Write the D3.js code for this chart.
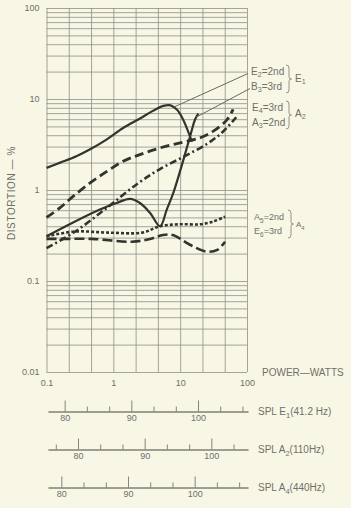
<!DOCTYPE html>
<html>
<head>
<meta charset="utf-8">
<script src="https://cdn.jsdelivr.net/npm/d3@7"></script>
<style>
  body { margin: 0; background: #f8f7e6; }
  svg { display: block; font-family: "Liberation Sans", Arial, sans-serif; }
  .grid line { stroke: #8e8e86; stroke-width: 0.8; }
  .grid path { display: none; }
  .curve { fill: none; stroke: #34342f; stroke-linejoin: round; }
  .lbl { fill: #6f6f68; font-size: 10px; }
  .tick-lbl text { fill: #6f6f68; font-size: 9px; font-family: "Liberation Sans", Arial, sans-serif; }
  .tick-lbl path, .tick-lbl line { stroke: none; }
  .spl path, .spl line { stroke: #77776f; stroke-width: 0.9; }
  .spl text { fill: #6f6f68; font-size: 9px; font-family: "Liberation Sans", Arial, sans-serif; }
  .pointer { stroke: #6a6a63; stroke-width: 1; }
  .brace { fill: none; stroke: #7a7a72; stroke-width: 0.8; }
</style>
</head>
<body>
<svg id="chart"></svg>
<script>
// distortion (%) vs power (W)
const e2Second = [[0.1,1.75],[0.16,2.0],[0.28,2.35],[0.45,2.8],[0.8,3.6],[1.4,4.8],[2.5,6.1],[3.9,7.4],[5.6,8.4],[7.2,8.5],[9,7.6],[11,6.0],[13,4.5],[15,3.4]];
const b3Third = [[0.1,0.31],[0.25,0.44],[0.63,0.61],[1.12,0.72],[1.78,0.80],[2.5,0.72],[3.55,0.56],[5.0,0.40],[6.3,0.61],[7.9,0.93],[11.2,2.16],[14.1,3.9],[16.7,5.95],[18.7,6.9]];
const e4Third = [[0.1,0.50],[0.16,0.64],[0.25,0.85],[0.45,1.2],[0.8,1.6],[1.4,2.07],[2.5,2.45],[5,2.9],[10,3.3],[20,3.75],[31,4.4],[50,5.9],[62,7.7]];
const a3Second = [[0.1,0.23],[0.27,0.35],[0.85,0.66],[2.4,1.2],[5,1.7],[11,2.3],[25,3.2],[44,4.4],[69,6.3]];
const a5Second = [[0.1,0.31],[0.27,0.35],[0.85,0.34],[2.7,0.34],[5,0.40],[10,0.42],[20,0.42],[31,0.45],[47,0.51]];
const e6Third = [[0.1,0.29],[0.17,0.29],[0.48,0.29],[1.9,0.27],[3.55,0.29],[5.5,0.32],[7.8,0.32],[14,0.25],[25,0.21],[36,0.22],[47,0.27]];

// where the two label pointers touch the curves
const e2Pointer = [8.2, 8.2];
const b3Pointer = [17.3, 6.3];

// axis tick labels
const powerTicks = [0.1, 1, 10, 100];
const powerTickLabels = ['0.1', '1', '10', '100'];
const distTicks = [0.01, 0.1, 1, 10, 100];
const distTickLabels = ['0.01', '0.1', '1', '10', '100'];

// SPL scales: dB at 1 W for each note
const splNames = ['E1', 'A2', 'A4'];
const splAt1W = [87.5, 85.5, 88.0];
const splMajor = [80, 90, 100];
const splMinor = [76.67, 83.33, 86.67, 93.33, 96.67, 103.33, 106.67];

class DistortionChart {
  constructor(_config) {
    this.config = {
      parentElement: _config.parentElement,
      containerWidth: _config.containerWidth || 351,
      containerHeight: _config.containerHeight || 508,
      plot: { left: 46.5, right: 247, top: 8, bottom: 372 }
    };
  }

  initVis() {
    let vis = this;
    let p = vis.config.plot;

    vis.xScale = d3.scaleLog().domain([0.1, 100]).range([p.left, p.right]);
    vis.yScale = d3.scaleLog().domain([0.01, 100]).range([p.bottom, p.top]);

    vis.svg = d3.select(vis.config.parentElement)
      .attr('width', vis.config.containerWidth)
      .attr('height', vis.config.containerHeight);

    vis.renderVis();
  }

  renderVis() {
    let vis = this;
    let p = vis.config.plot;
    let w = p.right - p.left, h = p.bottom - p.top;

    // graph paper: 3 verticals per decade, 1..9 horizontals per decade
    let xGridVals = d3.range(-3, 7).map(k => Math.pow(10, k / 3));
    let yGridVals = [];
    [0.01, 0.1, 1, 10].forEach(d => d3.range(1, 10).forEach(m => yGridVals.push(d * m)));
    yGridVals.push(100);

    vis.svg.append('g')
      .attr('class', 'grid')
      .attr('transform', `translate(0,${p.bottom})`)
      .call(d3.axisBottom(vis.xScale).tickValues(xGridVals).tickSize(-h).tickFormat(''));

    vis.svg.append('g')
      .attr('class', 'grid')
      .attr('transform', `translate(${p.left},0)`)
      .call(d3.axisLeft(vis.yScale).tickValues(yGridVals).tickSize(-w).tickFormat(''));

    // tick labels
    vis.svg.append('g')
      .attr('class', 'tick-lbl')
      .attr('transform', `translate(0,${p.bottom})`)
      .call(d3.axisBottom(vis.xScale).tickValues(powerTicks).tickSize(0).tickPadding(8)
        .tickFormat((d, i) => powerTickLabels[i]));

    vis.svg.append('g')
      .attr('class', 'tick-lbl')
      .attr('transform', `translate(${p.left},0)`)
      .call(d3.axisLeft(vis.yScale).tickValues(distTicks).tickSize(0).tickPadding(7)
        .tickFormat((d, i) => distTickLabels[i]));

    vis.svg.append('text')
      .attr('class', 'lbl')
      .attr('transform', 'translate(12.5,193) rotate(-90)')
      .attr('text-anchor', 'middle')
      .attr('dominant-baseline', 'middle')
      .style('letter-spacing', '0.6px')
      .text('DISTORTION — %');

    vis.svg.append('text')
      .attr('class', 'lbl')
      .attr('x', 262).attr('y', 375.5)
      .style('font-size', '10px')
      .text('POWER—WATTS');

    // curves
    let line = d3.line()
      .x(d => vis.xScale(d[0]))
      .y(d => vis.yScale(d[1]))
      .curve(d3.curveCatmullRom.alpha(0.5));

    let series = [
      { data: e2Second, width: 2.2, dash: null },
      { data: b3Third, width: 2.2, dash: null },
      { data: e4Third, width: 2.8, dash: '9,4.5' },
      { data: a3Second, width: 2.6, dash: '7,3,2,3' },
      { data: a5Second, width: 2.6, dash: '3,2' },
      { data: e6Third, width: 2.6, dash: '10,4' }
    ];
    series.forEach(s => {
      vis.svg.append('path')
        .datum(s.data)
        .attr('class', 'curve')
        .attr('stroke-width', s.width)
        .attr('stroke-dasharray', s.dash)
        .attr('d', line);
    });

    // pointers from labels to curves
    vis.svg.append('line').attr('class', 'pointer')
      .attr('x1', 248).attr('y1', 73.5)
      .attr('x2', vis.xScale(e2Pointer[0])).attr('y2', vis.yScale(e2Pointer[1]));
    vis.svg.append('line').attr('class', 'pointer')
      .attr('x1', 250).attr('y1', 88.5)
      .attr('x2', vis.xScale(b3Pointer[0])).attr('y2', vis.yScale(b3Pointer[1]));

    // legend labels
    vis.subLabel(251, 74.5, 'E', '2', '=2nd', 10);
    vis.subLabel(251, 89.5, 'B', '3', '=3rd', 10);
    vis.subLabel(252, 110.5, 'E', '4', '=3rd', 10);
    vis.subLabel(252, 125.5, 'A', '3', '=2nd', 10);
    vis.subLabel(254, 220, 'A', '5', '=2nd', 9);
    vis.subLabel(254, 234, 'E', '6', '=3rd', 9);

    vis.brace(286, 65, 93);
    vis.brace(286, 101, 129);
    vis.brace(288, 210, 238);
    vis.subLabel(295, 81.5, 'E', '1', '', 10);
    vis.subLabel(295, 116.5, 'A', '2', '', 10);
    vis.subLabel(296, 227, 'A', '4', '', 8);

    // SPL scales under the power axis
    let splY = [411.5, 449.5, 487.5];
    let splText = ['(41.2 Hz)', '(110Hz)', '(440Hz)'];
    splNames.forEach((name, i) => {
      let s0 = splAt1W[i];
      let db = d3.scaleLinear().domain([s0 - 10, s0 + 20]).range([p.left + 1.5, p.right + 1]);
      let dom = db.domain();
      let inDom = v => v >= dom[0] && v <= dom[1];

      let g = vis.svg.append('g').attr('class', 'spl').attr('transform', `translate(0,${splY[i]})`);
      g.call(d3.axisBottom(db).tickValues(splMajor.filter(inDom)).tickSizeInner(-11).tickSizeOuter(0)
        .tickPadding(3).tickFormat(d3.format('d')));
      g.append('g').call(d3.axisBottom(db).tickValues(splMinor.filter(inDom)).tickSizeInner(-5)
        .tickSizeOuter(0).tickFormat(''));

      let t = vis.svg.append('text').attr('class', 'lbl').attr('x', 258).attr('y', splY[i] + 3.5);
      t.append('tspan').text('SPL ' + name[0]);
      t.append('tspan').attr('dy', 3).style('font-size', '7.5px').text(name[1]);
      t.append('tspan').attr('dy', -3).text(splText[i]);
    });
  }

  subLabel(x, y, main, sub, rest, size) {
    let t = this.svg.append('text').attr('class', 'lbl').attr('x', x).attr('y', y)
      .style('font-size', size + 'px');
    t.append('tspan').text(main);
    t.append('tspan').attr('dy', 2.5).style('font-size', (size * 0.72) + 'px').text(sub);
    if (rest) t.append('tspan').attr('dy', -2.5).text(rest);
  }

  brace(x, y0, y1) {
    let m = (y0 + y1) / 2;
    this.svg.append('path').attr('class', 'brace')
      .attr('d', `M${x},${y0} q3,0 3,3 V${m - 2} q0,2 2.5,2 q-2.5,0 -2.5,2 V${y1 - 3} q0,3 -3,3`);
  }
}

const chart = new DistortionChart({ parentElement: '#chart' });
chart.initVis();
</script>
</body>
</html>
